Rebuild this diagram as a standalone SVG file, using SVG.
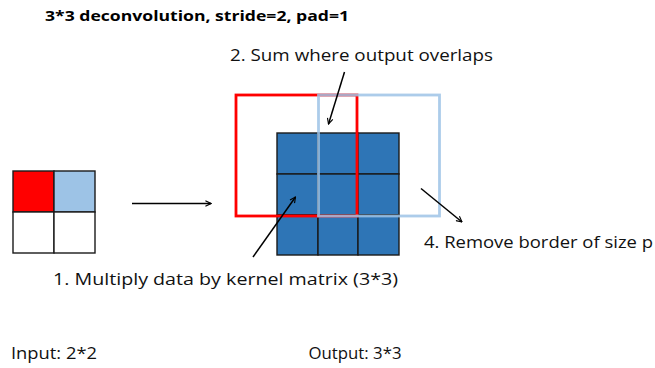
<svg xmlns="http://www.w3.org/2000/svg" width="655" height="368" viewBox="0 0 655 368">
<defs>
<marker id="ah" viewBox="0 0 10 10" refX="9" refY="5" markerWidth="7" markerHeight="7" orient="auto" markerUnits="userSpaceOnUse">
<polyline points="1,1 9,5 1,9" fill="none" stroke="#000" stroke-width="1.6"/>
</marker>
<style>
.t{font-family:"Open Sans","Liberation Sans",sans-serif;font-size:17px;fill:#111}
.tb{font-family:"Open Sans","Liberation Sans",sans-serif;font-size:14px;font-weight:bold;fill:#000}
.cell{stroke:#1a1a1a;stroke-width:1.4}
.conn{stroke:#000;stroke-width:1.5;fill:none;marker-end:url(#ah)}
</style>
</defs>
<rect width="655" height="368" fill="#fff"/>
<g id="title"><text class="tb" x="45" y="21" textLength="304" lengthAdjust="spacingAndGlyphs">3*3 deconvolution, stride=2, pad=1</text></g>
<g id="input">
<rect class="cell" x="13" y="171" width="41" height="41" fill="#ff0000"/>
<rect class="cell" x="54" y="171" width="41" height="41" fill="#9dc3e6"/>
<rect class="cell" x="13" y="212" width="41" height="41" fill="#fff"/>
<rect class="cell" x="54" y="212" width="41" height="41" fill="#fff"/>
</g>
<g id="output">
<rect class="cell" x="277" y="133" width="41" height="41" fill="#2e75b6"/>
<rect class="cell" x="318" y="133" width="40" height="41" fill="#2e75b6"/>
<rect class="cell" x="358" y="133" width="41" height="41" fill="#2e75b6"/>
<rect class="cell" x="277" y="174" width="41" height="41" fill="#2e75b6"/>
<rect class="cell" x="318" y="174" width="40" height="41" fill="#2e75b6"/>
<rect class="cell" x="358" y="174" width="41" height="41" fill="#2e75b6"/>
<rect class="cell" x="277" y="215" width="41" height="40" fill="#2e75b6"/>
<rect class="cell" x="318" y="215" width="40" height="40" fill="#2e75b6"/>
<rect class="cell" x="358" y="215" width="41" height="40" fill="#2e75b6"/>
</g>
<g id="kernel-red"><rect x="236" y="95" width="121" height="121" fill="none" stroke="#ff0000" stroke-width="2.8"/></g>
<g id="kernel-blue"><rect x="318.5" y="95" width="121" height="121" fill="none" stroke="#9dc3e6" stroke-width="2.8" stroke-opacity="0.85"/></g>
<g id="connectors">
<line class="conn" x1="132" y1="203.5" x2="211" y2="203.5"/>
<line class="conn" x1="344.5" y1="72" x2="328.5" y2="124"/>
<line class="conn" x1="253" y1="257" x2="295.5" y2="197"/>
<line class="conn" x1="421" y1="188.5" x2="462" y2="222"/>
</g>
<g id="label-2"><text class="t" x="230" y="61" textLength="263" lengthAdjust="spacingAndGlyphs">2. Sum where output overlaps</text></g>
<g id="label-4"><text class="t" x="424" y="247.5" textLength="229" lengthAdjust="spacingAndGlyphs">4. Remove border of size p</text></g>
<g id="label-1"><text class="t" x="53" y="284.5" textLength="345" lengthAdjust="spacingAndGlyphs">1. Multiply data by kernel matrix (3*3)</text></g>
<g id="label-input"><text class="t" x="11" y="359" textLength="86" lengthAdjust="spacingAndGlyphs">Input: 2*2</text></g>
<g id="label-output"><text class="t" x="308.5" y="359" textLength="93" lengthAdjust="spacingAndGlyphs">Output: 3*3</text></g>
</svg>
